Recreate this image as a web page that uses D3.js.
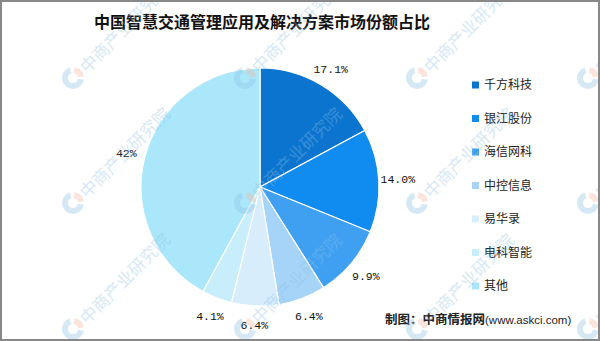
<!DOCTYPE html>
<html>
<head>
<meta charset="utf-8">
<script src="https://cdn.jsdelivr.net/npm/d3@7/dist/d3.min.js"></script>
<style>
  html, body { margin: 0; padding: 0; background: #fff; }
</style>
</head>
<body>
<div id="chart"></div>
<script>
const names = ['千方科技', '银江股份', '海信网科', '中控信息', '易华录', '电科智能', '其他'];
const shares = [17.1, 14.0, 9.9, 6.4, 6.4, 4.1, 42];
const shareLabels = ['17.1%', '14.0%', '9.9%', '6.4%', '6.4%', '4.1%', '42%'];
const colors = ['#0b74cf', '#108bef', '#3fa0f2', '#a5d4f8', '#d8edfc', '#c8eefc', '#aae7fb'];
const markColumns = [73, 245, 417, 588];
const markRows = [78, 203, 329];

const W = 600, H = 341;
const cx = 260, cy = 187, R = 119, labelR = 138;

const svg = d3.select('#chart').append('svg').attr('width', W).attr('height', H);

svg.append('rect').attr('width', W).attr('height', H).attr('fill', '#fff');

// title
svg.append('text')
  .attr('x', 262).attr('y', 28)
  .attr('text-anchor', 'middle')
  .style('font-family', '"Noto Sans CJK SC"')
  .style('font-size', '16px')
  .style('font-weight', 'bold')
  .attr('fill', '#111')
  .text('中国智慧交通管理应用及解决方案市场份额占比');

// pie
const pie = d3.pie().sort(null).value(d => d)(shares);
const arc = d3.arc().innerRadius(0).outerRadius(R);
const labelArc = d3.arc().innerRadius(labelR).outerRadius(labelR);

const g = svg.append('g').attr('transform', `translate(${cx},${cy})`);

g.selectAll('path')
  .data(pie)
  .join('path')
  .attr('d', arc)
  .attr('fill', (d, i) => colors[i])
  .attr('stroke', '#fff')
  .attr('stroke-width', 1.2);

g.selectAll('text.lbl')
  .data(pie)
  .join('text')
  .attr('class', 'lbl')
  .attr('transform', d => `translate(${labelArc.centroid(d)})`)
  .attr('text-anchor', 'middle')
  .attr('dy', '0.35em')
  .style('font-family', '"Liberation Mono"')
  .style('font-size', '11.5px')
  .attr('fill', '#111')
  .text((d, i) => shareLabels[i]);

// legend
const legendY = d3.scalePoint().domain(names).range([85, 286]);
const legend = svg.append('g');
legend.selectAll('rect')
  .data(names)
  .join('rect')
  .attr('x', 472).attr('y', d => legendY(d) - 3.5)
  .attr('width', 7).attr('height', 7)
  .attr('fill', (d, i) => colors[i]);
legend.selectAll('text')
  .data(names)
  .join('text')
  .attr('x', 484).attr('y', d => legendY(d))
  .attr('dy', '0.36em')
  .style('font-family', '"Noto Sans CJK SC"')
  .style('font-size', '12px')
  .attr('fill', '#222')
  .text(d => d);

// source
const src = svg.append('text')
  .attr('x', 385).attr('y', 324)
  .style('font-family', '"Noto Sans CJK SC"')
  .attr('fill', '#222');
src.append('tspan').style('font-size', '12.5px').style('font-weight', 'bold').text('制图：中商情报网');
src.append('tspan').style('font-size', '11.5px').style('font-family', '"Liberation Sans"').text('(www.askci.com)');

// watermarks (faint, drawn over everything)
const marks = svg.append('g').style('pointer-events', 'none');
const ring = d3.arc().innerRadius(5).outerRadius(11);
markColumns.forEach(x => markRows.forEach(y => {
  const m = marks.append('g').attr('transform', `translate(${x},${y})`).attr('opacity', 0.35);
  m.append('path').attr('d', ring({ startAngle: Math.PI * 0.55, endAngle: Math.PI * 1.9 })).attr('fill', '#8ec0e4');
  m.append('path').attr('d', ring({ startAngle: Math.PI * 0.05, endAngle: Math.PI * 0.45 })).attr('fill', '#f4b49a');
  m.append('text')
    .attr('transform', 'translate(10,-8) rotate(-45)')
    .attr('dy', '0.35em')
    .style('font-family', '"Noto Sans CJK SC"')
    .style('font-size', '17px')
    .attr('fill', '#8ec0e4')
    .text('中商产业研究院');
}));

// border
svg.append('rect')
  .attr('x', 1).attr('y', 1).attr('width', W - 2).attr('height', H - 2)
  .attr('fill', 'none').attr('stroke', '#888').attr('stroke-width', 2);
</script>
</body>
</html>
